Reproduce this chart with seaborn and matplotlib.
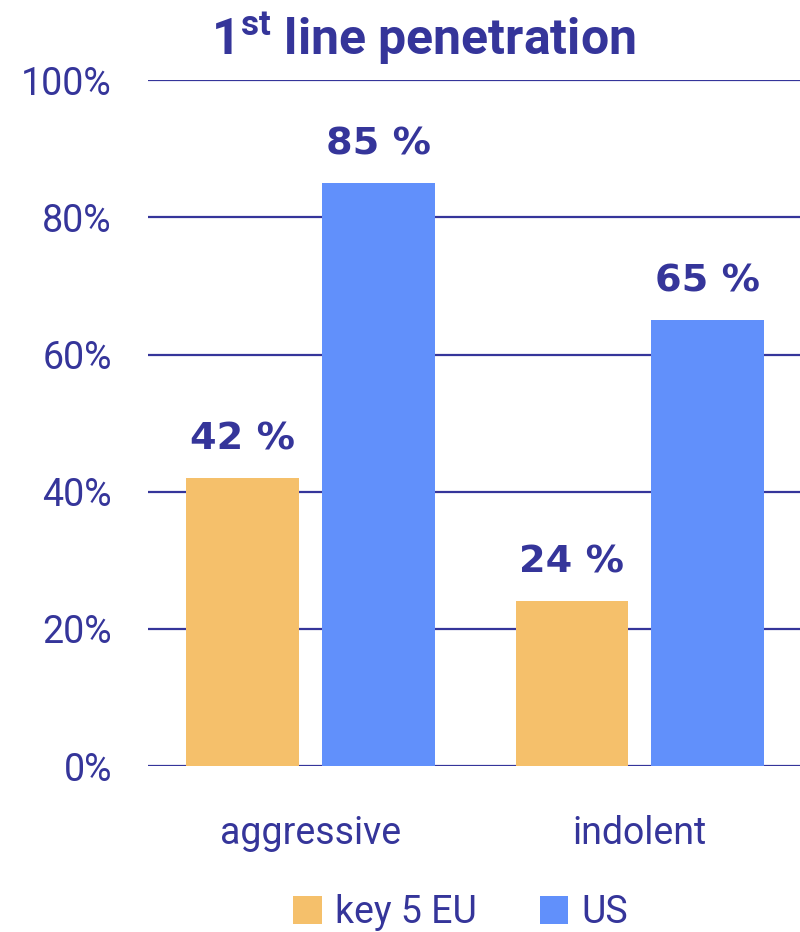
import matplotlib

matplotlib.use("Agg")
import matplotlib.pyplot as plt
import pandas as pd
import seaborn as sns
from matplotlib.patches import Patch

# Data
categories = ["aggressive", "indolent"]
regions = ["key 5 EU", "US"]
eu_values = [42, 24]
us_values = [85, 65]
yticks = [0, 20, 40, 60, 80, 100]

NAVY = "#35359a"
colors = {"key 5 EU": "#f5c06b", "US": "#6190fb"}

df = pd.DataFrame({
    "segment": categories * 2,
    "region": [regions[0]] * 2 + [regions[1]] * 2,
    "value": eu_values + us_values,
})

sns.set_style("white")
plt.rcParams["font.family"] = ["Roboto", "DejaVu Sans"]
plt.rcParams["mathtext.fontset"] = "custom"
plt.rcParams["mathtext.rm"] = "Roboto"
plt.rcParams["mathtext.bf"] = "Roboto:bold"

fig = plt.figure(figsize=(8, 9.32), dpi=100)
ax = fig.add_axes([0.185, 0.178, 0.815, 0.736])

sns.barplot(
    data=df, x="segment", y="value", hue="region",
    order=categories, hue_order=regions, palette=colors,
    width=0.825, gap=0.17, saturation=1, linewidth=0,
    ax=ax, legend=False,
)

ax.set_ylim(0, 100)
ax.set_xlim(-0.493, 1.486)
ax.set_yticks(yticks)
ax.set_yticklabels([f"{t}%" for t in yticks])
ax.yaxis.grid(True, color=NAVY, linewidth=1.6)
ax.set_axisbelow(True)
for side in ax.spines.values():
    side.set_visible(False)
ax.tick_params(axis="y", length=0, pad=26, labelsize=27, labelcolor=NAVY)
ax.tick_params(axis="x", length=0, pad=35, labelsize=27, labelcolor=NAVY)
ax.set_xlabel("")
ax.set_ylabel("")

# value labels above bars
for cont in ax.containers:
    ax.bar_label(
        cont, labels=[f"{v:.0f} %" for v in cont.datavalues],
        padding=15, fontsize=27.5, fontweight="heavy", color=NAVY,
        family="DejaVu Sans",
    )

fig.text(0.529, 0.941, r"$\mathbf{1^{st}}$" + " line penetration",
         ha="center", va="baseline", fontsize=36, fontweight="bold",
         color=NAVY)

handles = [Patch(facecolor=colors[r], edgecolor="none") for r in regions]
fig.legend(
    handles, regions, loc="center", bbox_to_anchor=(0.576, 0.021),
    ncol=2, frameon=False, fontsize=27, labelcolor=NAVY,
    handlelength=0.75, handleheight=0.75, handletextpad=0.35,
    columnspacing=1.7, borderaxespad=0, borderpad=0,
)

fig.savefig("out.png", dpi=100, facecolor="white")
